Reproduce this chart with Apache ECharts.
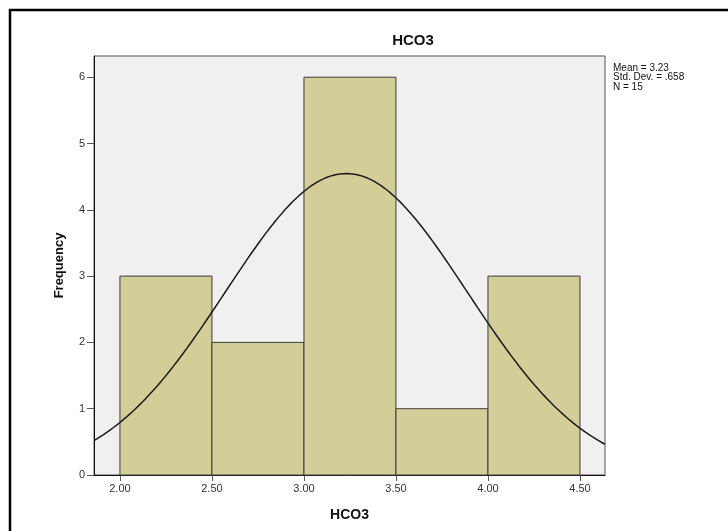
<!DOCTYPE html>
<html>
<head>
<meta charset="utf-8">
<title>HCO3</title>
<script src="https://cdn.jsdelivr.net/npm/echarts@6/dist/echarts.min.js"></script>
<style>
  html, body { margin: 0; padding: 0; background: #ffffff; }
  #chart { width: 728px; height: 531px; }
</style>
</head>
<body>
<div id="chart"></div>
<script>
// Histogram bins (lower edge, upper edge) and their counts
const binStarts = [2.0, 2.5, 3.0, 3.5, 4.0];
const binEnds   = [2.5, 3.0, 3.5, 4.0, 4.5];
const counts    = [3, 2, 6, 1, 3];

// Summary statistics printed beside the plot
const statMean = 3.23;
const statSD = 0.658;
const statN = 15;

// Axis tick labels
const xTicks = [2.0, 2.5, 3.0, 3.5, 4.0, 4.5];
const yTicks = [0, 1, 2, 3, 4, 5, 6];

const xMin = 1.859, xMax = 4.636;
const yMax = 6.32;

// Fitted normal curve scaled to the histogram (N * bin width * density)
const binWidth = binEnds[0] - binStarts[0];
const curve = [];
const steps = 160;
for (let i = 0; i <= steps; i++) {
  const x = xMin + (xMax - xMin) * i / steps;
  const z = (x - statMean) / statSD;
  const y = statN * binWidth * Math.exp(-0.5 * z * z) / (statSD * Math.sqrt(2 * Math.PI));
  curve.push([x, y]);
}

const histData = binStarts.map((s, i) => [s, binEnds[i], counts[i]]);

const FONT = '"Liberation Sans", Arial, sans-serif';

const chart = echarts.init(document.getElementById('chart'));
chart.setOption({
  animation: false,
  backgroundColor: '#ffffff',
  grid: {
    left: 94, right: 123, top: 56, bottom: 56,
    show: true,
    backgroundColor: '#f0f0f0',
    borderColor: '#555555',
    borderWidth: 1
  },
  xAxis: {
    type: 'value',
    min: xMin, max: xMax,
    name: 'HCO3',
    nameLocation: 'middle',
    nameGap: 33,
    nameTextStyle: { fontFamily: FONT, fontWeight: 'bold', fontSize: 14, color: '#111' },
    axisLine: { show: true, lineStyle: { color: '#111', width: 1 } },
    axisTick: { show: true, length: 6, lineStyle: { color: '#555' }, customValues: xTicks },
    axisLabel: {
      customValues: xTicks,
      formatter: v => v.toFixed(2),
      fontFamily: FONT, fontSize: 11, color: '#333', margin: 8
    },
    splitLine: { show: false }
  },
  yAxis: {
    type: 'value',
    min: 0, max: yMax,
    name: 'Frequency',
    nameLocation: 'middle',
    nameGap: 28,
    nameRotate: 90,
    nameTextStyle: { fontFamily: FONT, fontWeight: 'bold', fontSize: 13, color: '#111' },
    axisLine: { show: true, lineStyle: { color: '#111', width: 1 } },
    axisTick: { show: true, length: 7, lineStyle: { color: '#555' }, customValues: yTicks },
    axisLabel: {
      customValues: yTicks,
      fontFamily: FONT, fontSize: 11, color: '#333', margin: 9
    },
    splitLine: { show: false }
  },
  series: [
    {
      type: 'custom',
      data: histData,
      renderItem: function (params, api) {
        const p0 = api.coord([api.value(0), api.value(2)]);
        const p1 = api.coord([api.value(1), 0]);
        return {
          type: 'rect',
          shape: { x: p0[0], y: p0[1], width: p1[0] - p0[0], height: p1[1] - p0[1] },
          style: { fill: '#d3ce98', stroke: '#3c3c3c', lineWidth: 1 }
        };
      },
      encode: { x: [0, 1], y: 2 },
      z: 2
    },
    {
      type: 'line',
      data: curve,
      showSymbol: false,
      smooth: false,
      lineStyle: { color: '#1a1a1a', width: 1.5 },
      z: 3
    }
  ],
  graphic: [
    {
      type: 'rect',
      shape: { x: 10, y: 10, width: 740, height: 540 },
      style: { fill: 'none', stroke: '#000', lineWidth: 2.5 },
      z: 10
    },
    {
      type: 'text',
      x: 413, y: 41,
      style: {
        text: 'HCO3', fontFamily: FONT, fontWeight: 'bold', fontSize: 15,
        fill: '#111', align: 'center', verticalAlign: 'middle'
      }
    },
    {
      type: 'text',
      x: 613, y: 63,
      style: {
        text: 'Mean = ' + statMean.toFixed(2) + '\nStd. Dev. = ' + statSD.toFixed(3).replace(/^0/, '') + '\nN = ' + statN,
        fontFamily: FONT, fontSize: 10, lineHeight: 9.5, fill: '#111',
        align: 'left', verticalAlign: 'top'
      }
    }
  ]
});
</script>
</body>
</html>
